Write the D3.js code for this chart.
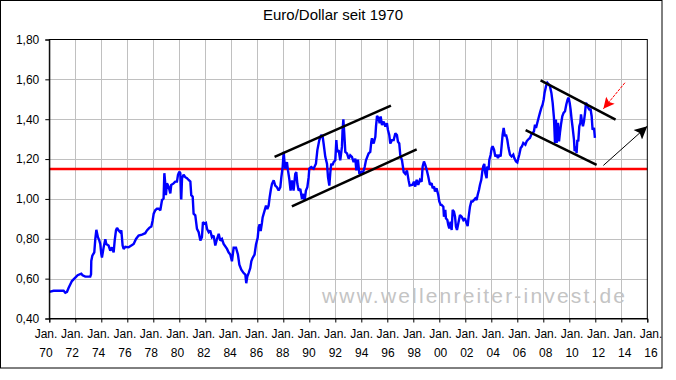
<!DOCTYPE html>
<html><head><meta charset="utf-8">
<script src="https://cdn.jsdelivr.net/npm/d3@7"></script>
<style>html,body{margin:0;padding:0;background:#fff;}svg{display:block;}</style>
</head><body>
<svg id="chart" width="676" height="380"></svg>
<script>
// ---- data ----
const chartTitle = "Euro/Dollar seit 1970";
const watermark = "www.wellenreiter-invest.de";
const xTickYears = d3.range(1970, 2017, 2);
const xTickTop = xTickYears.map(() => "Jan.");
const xTickBottom = xTickYears.map(y => String(y % 100).padStart(2, "0"));
const yTicks = [0.4, 0.6, 0.8, 1.0, 1.2, 1.4, 1.6, 1.8];
const supportLevel = 1.15;

const dates = [
1970.00,1970.33,1971.10,1971.23,1971.36,1971.49,1971.74,1972.00,1972.18,1972.46,1972.56,1972.77,1973.15,1973.21,1973.23,1973.31,1973.46,1973.54,1973.62,1973.74,1973.85,1973.92,
1974.00,1974.05,1974.18,1974.31,1974.38,1974.56,1974.69,1974.82,1974.95,1975.03,1975.13,1975.21,1975.33,1975.46,1975.54,1975.64,1975.72,1975.85,1976.10,1976.31,1976.49,1976.67,1976.87,
1977.13,1977.38,1977.51,1977.69,1977.85,1977.95,1978.03,1978.15,1978.28,1978.41,1978.54,1978.67,1978.79,1978.85,1978.92,1978.97,1979.05,1979.18,1979.31,1979.38,1979.56,1979.69,1979.82,1979.90,
1980.00,1980.08,1980.15,1980.21,1980.33,1980.46,1980.59,1980.72,1980.85,1980.92,1981.03,1981.10,1981.23,1981.36,1981.49,1981.62,1981.74,1981.82,1981.95,1982.05,1982.13,1982.26,1982.38,1982.51,1982.64,1982.77,1982.90,
1983.03,1983.15,1983.28,1983.41,1983.67,1983.79,1983.92,1984.05,1984.18,1984.36,1984.51,1984.62,1984.77,1984.95,1985.08,1985.15,1985.23,1985.33,1985.46,1985.54,1985.64,1985.79,1985.90,
1986.03,1986.10,1986.18,1986.26,1986.36,1986.41,1986.56,1986.67,1986.77,1986.87,1986.95,1987.05,1987.13,1987.26,1987.38,1987.51,1987.64,1987.77,1987.85,1987.95,
1988.03,1988.10,1988.15,1988.28,1988.36,1988.46,1988.56,1988.67,1988.79,1988.92,1989.00,1989.08,1989.18,1989.31,1989.44,1989.56,1989.64,1989.74,1989.85,1989.95,
1990.00,1990.15,1990.33,1990.51,1990.62,1990.77,1990.92,1991.03,1991.10,1991.23,1991.36,1991.44,1991.54,1991.62,1991.69,1991.79,1991.87,
1992.00,1992.08,1992.15,1992.26,1992.38,1992.51,1992.56,1992.62,1992.69,1992.77,1992.90,1993.03,1993.15,1993.28,1993.41,1993.54,1993.62,1993.74,1993.85,
1994.00,1994.10,1994.26,1994.36,1994.46,1994.56,1994.69,1994.77,1994.82,1994.95,1995.08,1995.13,1995.21,1995.33,1995.41,1995.49,1995.59,1995.72,1995.85,1995.97,
1996.05,1996.15,1996.23,1996.36,1996.49,1996.62,1996.74,1996.82,1996.92,1997.00,1997.13,1997.26,1997.38,1997.51,1997.64,1997.72,1997.95,
1998.05,1998.15,1998.26,1998.38,1998.51,1998.64,1998.72,1998.82,1998.92,1999.03,1999.15,1999.28,1999.41,1999.49,1999.59,1999.67,1999.79,1999.92,
2000.00,2000.10,2000.18,2000.31,2000.36,2000.46,2000.51,2000.62,2000.69,2000.77,2000.87,2000.95,2001.03,2001.13,2001.21,2001.28,2001.36,2001.46,2001.59,2001.72,2001.85,2001.97,
2002.10,2002.18,2002.26,2002.36,2002.46,2002.56,2002.67,2002.77,2002.87,2002.95,2003.05,2003.13,2003.23,2003.31,2003.38,2003.46,2003.54,2003.64,2003.69,2003.79,2003.85,2003.95,
2004.03,2004.10,2004.21,2004.31,2004.41,2004.51,2004.62,2004.72,2004.79,2004.87,2004.95,2005.05,2005.13,2005.23,2005.33,2005.44,2005.56,2005.69,2005.77,2005.90,
2006.00,2006.08,2006.15,2006.26,2006.36,2006.46,2006.62,2006.72,2006.82,2006.97,2007.08,2007.18,2007.28,2007.36,2007.44,2007.54,2007.64,2007.74,2007.85,2007.95,
2008.03,2008.10,2008.21,2008.31,2008.41,2008.51,2008.62,2008.72,2008.82,2008.90,2008.97,2009.03,2009.13,2009.21,2009.28,2009.36,2009.46,2009.56,2009.67,2009.77,2009.87,2009.95,
2010.03,2010.10,2010.18,2010.26,2010.36,2010.41,2010.49,2010.56,2010.62,2010.69,2010.77,2010.85,2010.90,2010.97,2011.05,2011.13,2011.21,2011.28,2011.36,2011.46,2011.54,2011.64,2011.72,2011.79,2011.90,2011.97
];
const euroDollar = [
0.534,0.539,0.539,0.529,0.534,0.554,0.588,0.605,0.617,0.625,0.617,0.610,0.610,0.622,0.689,0.715,0.732,0.799,0.845,0.808,0.791,0.774,
0.723,0.706,0.757,0.798,0.774,0.766,0.740,0.757,0.732,0.791,0.842,0.855,0.842,0.833,0.842,0.766,0.749,0.760,0.757,0.766,0.774,0.799,0.816,
0.821,0.828,0.842,0.855,0.862,0.892,0.926,0.943,0.951,0.951,0.943,0.994,1.002,1.129,1.078,1.019,1.078,1.061,1.028,1.070,1.078,1.087,1.087,1.121,
1.137,1.129,0.997,1.104,1.121,1.109,1.104,1.095,1.087,1.019,1.011,0.926,0.918,0.850,0.833,0.791,0.808,0.884,0.875,0.879,0.850,0.833,0.842,0.808,0.816,0.766,0.799,
0.825,0.791,0.799,0.774,0.749,0.732,0.721,0.687,0.755,0.755,0.721,0.670,0.645,0.628,0.620,0.577,0.611,0.628,0.653,0.687,0.704,0.721,0.772,
0.805,0.856,0.873,0.839,0.881,0.907,0.941,0.966,0.949,0.966,1.008,1.050,1.076,1.093,1.067,1.059,1.042,1.059,1.109,1.160,
1.236,1.177,1.152,1.185,1.143,1.101,1.042,1.093,1.042,1.126,1.135,1.076,1.042,1.050,1.000,1.025,0.991,1.042,1.059,1.109,
1.152,1.160,1.152,1.177,1.245,1.295,1.321,1.312,1.278,1.211,1.177,1.109,1.067,1.135,1.177,1.169,1.185,
1.194,1.295,1.236,1.245,1.194,1.261,1.346,1.400,1.329,1.236,1.228,1.202,1.219,1.211,1.185,1.202,1.143,1.197,1.126,
1.135,1.126,1.160,1.194,1.211,1.228,1.236,1.287,1.304,1.278,1.312,1.363,1.417,1.405,1.380,1.414,1.371,1.388,1.363,1.380,
1.346,1.321,1.278,1.295,1.295,1.329,1.321,1.287,1.278,1.219,1.194,1.135,1.126,1.143,1.093,1.067,1.071,
1.087,1.062,1.096,1.071,1.096,1.087,1.163,1.188,1.171,1.146,1.113,1.071,1.079,1.054,1.062,1.037,1.054,1.020,
0.987,0.970,0.970,0.961,0.911,0.945,0.903,0.894,0.869,0.852,0.886,0.844,0.945,0.936,0.911,0.861,0.844,0.877,0.919,0.911,0.894,0.903,
0.877,0.864,0.911,0.961,0.987,0.987,0.995,1.003,0.995,1.020,1.045,1.071,1.096,1.138,1.163,1.176,1.129,1.104,1.163,1.146,1.197,1.222,
1.255,1.264,1.247,1.213,1.222,1.205,1.222,1.213,1.264,1.323,1.356,1.314,1.323,1.297,1.255,1.222,1.213,1.222,1.205,1.188,
1.183,1.205,1.222,1.255,1.264,1.281,1.272,1.289,1.297,1.306,1.323,1.331,1.339,1.373,1.356,1.382,1.407,1.432,1.457,1.474,
1.499,1.533,1.566,1.583,1.575,1.566,1.533,1.482,1.407,1.281,1.398,1.281,1.382,1.289,1.331,1.373,1.415,1.432,1.440,1.474,1.499,1.508,
1.482,1.449,1.398,1.356,1.297,1.239,1.264,1.230,1.297,1.289,1.365,1.382,1.424,1.390,1.365,1.390,1.432,1.482,1.474,1.457,1.449,1.449,1.415,1.348,1.356,1.306
];

// trend channels: [startYear, startValue, endYear, endValue]
const channel1Upper = [1987.33, 1.211, 1996.28, 1.468];
const channel1Lower = [1988.66, 0.963, 1998.26, 1.249];
const channel2Upper = [2007.79, 1.595, 2013.56, 1.398];
const channel2Lower = [2006.64, 1.345, 2012.10, 1.171];
const redArrow = [2014.28, 1.583, 2012.62, 1.452];
const blackArrow = [2012.62, 1.168, 2016.0, 1.365];

// ---- drawing ----
const svg = d3.select("#chart");
const W = 676, H = 380;
const plot = {left: 49.3, right: 647.3, top: 39.5, bottom: 318.5};
const FONT = "'Liberation Sans', Arial, sans-serif";

svg.append("rect").attr("x", 0).attr("y", 0).attr("width", W).attr("height", H).attr("fill", "#fff");
svg.append("rect").attr("x", 0.5).attr("y", 0.5).attr("width", 661.5).attr("height", 367.5)
  .attr("fill", "none").attr("stroke", "#000").attr("stroke-width", 1);

const x = d3.scaleLinear().domain([1970, 2016]).range([plot.left, plot.right]);
const y = d3.scaleLinear().domain([0.4, 1.8]).range([plot.bottom, plot.top]);
const xLab = d3.scaleLinear().domain([1970, 2016]).range([46, 651]);

// title
svg.append("text").attr("x", 333).attr("y", 20).attr("text-anchor", "middle")
  .attr("font-family", FONT).attr("font-size", 15).attr("fill", "#000").text(chartTitle);

// gridlines
const g = svg.append("g");
g.selectAll(".vg").data(xTickYears.slice(1, -1)).join("line")
  .attr("x1", d => Math.round(x(d)) + 0.5).attr("x2", d => Math.round(x(d)) + 0.5)
  .attr("y1", plot.top).attr("y2", plot.bottom)
  .attr("stroke", "#c0c0c0").attr("stroke-width", 1);
g.selectAll(".hg").data(yTicks.slice(1, -1)).join("line")
  .attr("x1", plot.left).attr("x2", plot.right)
  .attr("y1", d => Math.round(y(d)) + 0.5).attr("y2", d => Math.round(y(d)) + 0.5)
  .attr("stroke", "#c0c0c0").attr("stroke-width", 1);

// watermark
svg.append("text").attr("x", 322).attr("y", 303)
  .attr("font-family", FONT).attr("font-size", 21).attr("fill", "#c4c4c4")
  .attr("textLength", 303).attr("lengthAdjust", "spacing").text(watermark);

// support line
svg.append("line").attr("x1", plot.left).attr("x2", plot.right)
  .attr("y1", y(supportLevel)).attr("y2", y(supportLevel))
  .attr("stroke", "#ff0000").attr("stroke-width", 2.5);

// series
const series = dates.map((d, i) => [d, euroDollar[i]]);
svg.append("path").datum(series)
  .attr("d", d3.line().x(d => x(d[0])).y(d => y(d[1])))
  .attr("fill", "none").attr("stroke", "#0000ff").attr("stroke-width", 2.4)
  .attr("stroke-linejoin", "miter").attr("stroke-miterlimit", 2);

// channels
[channel1Upper, channel1Lower, channel2Upper, channel2Lower].forEach(c => {
  svg.append("line").attr("x1", x(c[0])).attr("y1", y(c[1])).attr("x2", x(c[2])).attr("y2", y(c[3]))
    .attr("stroke", "#000").attr("stroke-width", 2.5);
});

// arrows
const defs = svg.append("defs");
function marker(id, color, size) {
  defs.append("marker").attr("id", id).attr("viewBox", "0 0 10 10").attr("refX", 10).attr("refY", 5)
    .attr("markerWidth", size).attr("markerHeight", size * 0.85).attr("markerUnits", "userSpaceOnUse")
    .attr("orient", "auto")
    .append("path").attr("d", "M0,0 L10,5 L0,10 L2,5 Z").attr("fill", color);
}
marker("arrRed", "#ff0000", 13);
marker("arrBlack", "#000", 15);
svg.append("line").attr("x1", x(redArrow[0])).attr("y1", y(redArrow[1])).attr("x2", x(redArrow[2])).attr("y2", y(redArrow[3]))
  .attr("stroke", "#ff0000").attr("stroke-width", 1).attr("stroke-dasharray", "3,1").attr("marker-end", "url(#arrRed)");
svg.append("line").attr("x1", x(blackArrow[0])).attr("y1", y(blackArrow[1])).attr("x2", x(blackArrow[2])).attr("y2", y(blackArrow[3]))
  .attr("stroke", "#000").attr("stroke-width", 1).attr("marker-end", "url(#arrBlack)");

// plot border
svg.append("rect").attr("x", plot.left).attr("y", plot.top)
  .attr("width", plot.right - plot.left).attr("height", plot.bottom - plot.top)
  .attr("fill", "none").attr("stroke", "#000").attr("stroke-width", 1);

// y axis
const yAxis = svg.append("g").attr("transform", `translate(${plot.left},0)`)
  .call(d3.axisLeft(y).tickValues(yTicks).tickSize(4).tickPadding(6)
    .tickFormat(d => d3.format(".2f")(d).replace(".", ",")));
yAxis.select(".domain").attr("stroke", "#000");
yAxis.selectAll("text").attr("font-family", FONT).attr("font-size", 12).attr("fill", "#000");

// x axis (ticks only)
const xAxis = svg.append("g").attr("transform", `translate(0,${plot.bottom})`)
  .call(d3.axisBottom(x).tickValues(xTickYears).tickSize(4).tickFormat(""));
xAxis.select(".domain").attr("stroke", "#000");

// x labels (two rows)
const xl = svg.append("g").attr("font-family", FONT).attr("font-size", 12).attr("fill", "#000").attr("text-anchor", "middle");
xl.selectAll(".t1").data(xTickYears).join("text")
  .attr("x", d => xLab(d)).attr("y", 337.5).text((d, i) => xTickTop[i]);
xl.selectAll(".t2").data(xTickYears).join("text")
  .attr("x", d => xLab(d)).attr("y", 357).text((d, i) => xTickBottom[i]);
</script>
</body></html>
